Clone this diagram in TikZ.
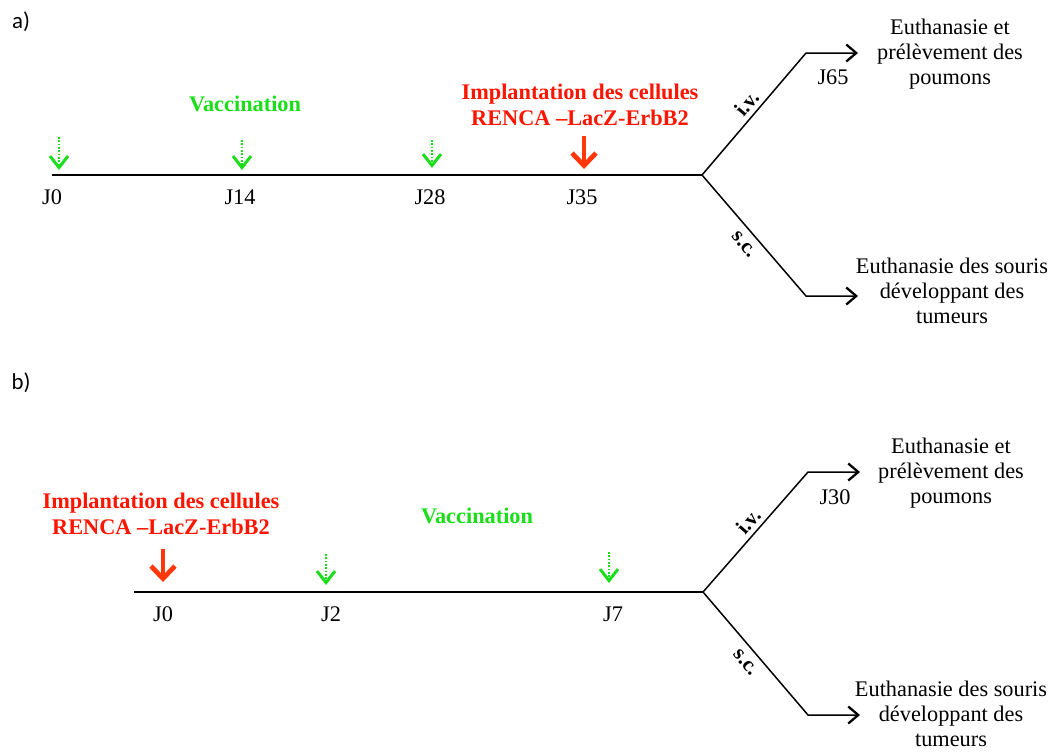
\documentclass[tikz,border=0pt]{standalone}
\usepackage{fontspec}
\setmainfont{Liberation Serif}
\newfontfamily\panelfont{Carlito}
\usetikzlibrary{positioning,arrows.meta}
\definecolor{vac}{RGB}{25,222,25}
\definecolor{imp}{RGB}{255,20,0}
\definecolor{imparrow}{RGB}{255,55,10}

\begin{document}
\begin{tikzpicture}[x=0.02cm,y=-0.02cm,font=\fontsize{12.7}{14.5}\selectfont,
  panel/.style={font=\panelfont\fontsize{13}{15}\selectfont},
  line/.style={line width=1pt},
  branch/.style={line width=0.85pt,-{Straight Barb[length=2mm,width=3.4mm,line width=1.3pt]}},
  vacarr/.style={vac,densely dotted,line width=0.9pt,-{Straight Barb[length=2.3mm,width=3.6mm,line width=1.7pt]}},
  imparr/.style={imparrow,line width=2.7pt,-{Straight Barb[length=2.5mm,width=4.8mm,line width=2.7pt]}},
  day/.style={inner sep=1pt},
  vactxt/.style={vac,font=\fontsize{12.7}{14.5}\selectfont\bfseries},
  imptxt/.style={imp,align=center,font=\fontsize{12.7}{14.7}\selectfont\bfseries},
  route/.style={font=\fontsize{12}{13}\selectfont\bfseries,inner sep=2.5pt},
  outcome/.style={align=center,font=\fontsize{12.7}{14.3}\selectfont}]
  \useasboundingbox (0,0) rectangle (1053,751);

  % a) vaccination then implantation
  \node[panel] (pa) at (21,22) {a)};
  \coordinate (a0) at (52,175);
  \coordinate (afork) at (702,175);
  \coordinate (aup) at (806,53);  \coordinate (aupend) at (858,53);
  \coordinate (adn) at (806,296); \coordinate (adnend) at (858,296);
  \draw[line] (a0) -- (afork);
  \draw[branch] (afork) -- node[route,sloped,above,pos=0.52]{i.v.} (aup) -- (aupend);
  \draw[branch] (afork) -- node[route,sloped,below,pos=0.5,inner sep=4.5pt]{s.c.} (adn) -- (adnend);
  \node[day] (ja0) at (52,197) {J0};
  \node[day] (ja14) at (240,197) {J14};
  \node[day] (ja28) at (430,197) {J28};
  \node[day] (ja35) at (582,197) {J35};
  \node[day] (ja65) at (833,77) {J65};
  \coordinate (va0) at (59,137);   \coordinate (ta0) at (59,170);
  \coordinate (va14) at (242,140); \coordinate (ta14) at (242,170);
  \coordinate (va28) at (432,140); \coordinate (ta28) at (432,168);
  \coordinate (ia) at (584,136);   \coordinate (tia) at (584,169);
  \draw[vacarr] (va0) -- (ta0);
  \draw[vacarr] (va14) -- (ta14);
  \draw[vacarr] (va28) -- (ta28);
  \draw[imparr] (ia) -- (tia);
  \node[vactxt] (vaca) at (245,104) {Vaccination};
  \node[imptxt] (impa) at (580,105) {Implantation des cellules\\RENCA --LacZ-ErbB2};
  \node[outcome] (lunga) at (950,54) {Euthanasie et\\prélèvement des\\poumons};
  \node[outcome] (tuma) at (952,291) {Euthanasie des souris\\développant des\\tumeurs};

  % b) implantation then vaccination
  \node[panel] (pb) at (21,383) {b)};
  \coordinate (b0) at (134,592);
  \coordinate (bfork) at (703,592);
  \coordinate (bup) at (808,472);  \coordinate (bupend) at (860,472);
  \coordinate (bdn) at (808,715);  \coordinate (bdnend) at (860,715);
  \draw[line] (b0) -- (bfork);
  \draw[branch] (bfork) -- node[route,sloped,above,pos=0.52]{i.v.} (bup) -- (bupend);
  \draw[branch] (bfork) -- node[route,sloped,below,pos=0.5,inner sep=4.5pt]{s.c.} (bdn) -- (bdnend);
  \node[day] (jb0) at (163,614) {J0};
  \node[day] (jb2) at (331,614) {J2};
  \node[day] (jb7) at (613,614) {J7};
  \node[day] (jb30) at (835,497) {J30};
  \coordinate (ib) at (163,549);   \coordinate (tib) at (163,582);
  \coordinate (vb2) at (326,554);  \coordinate (tb2) at (326,585);
  \coordinate (vb7) at (609,552);  \coordinate (tb7) at (609,583);
  \draw[imparr] (ib) -- (tib);
  \draw[vacarr] (vb2) -- (tb2);
  \draw[vacarr] (vb7) -- (tb7);
  \node[imptxt] (impb) at (161,514) {Implantation des cellules\\RENCA --LacZ-ErbB2};
  \node[vactxt] (vacb) at (477,516) {Vaccination};
  \node[outcome] (lungb) at (951,473) {Euthanasie et\\prélèvement des\\poumons};
  \node[outcome] (tumb) at (951,714) {Euthanasie des souris\\développant des\\tumeurs};
\end{tikzpicture}
\end{document}
